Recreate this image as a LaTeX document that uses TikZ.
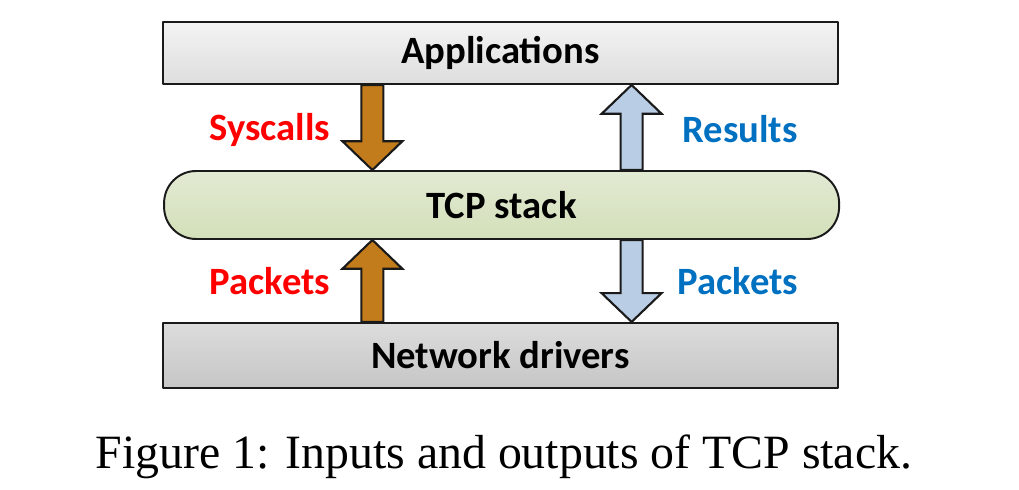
\documentclass[tikz,border=0pt]{standalone}
\usepackage{fontspec}
\setmainfont{Liberation Serif}
\newfontfamily\labelfont{Carlito}
\usetikzlibrary{arrows.meta,positioning,calc}
\definecolor{ink}{HTML}{1A1A1A}
\definecolor{appstop}{HTML}{F3F3F3}
\definecolor{appsbot}{HTML}{DEDEDE}
\definecolor{drvtop}{HTML}{DCDCDC}
\definecolor{drvbot}{HTML}{C6C6C6}
\definecolor{tcptop}{HTML}{E2EAD3}
\definecolor{tcpbot}{HTML}{D3DFB9}
\definecolor{brownarrow}{HTML}{C27C1C}
\definecolor{bluearrow}{HTML}{B9CDE5}
\definecolor{redtext}{HTML}{FF0000}
\definecolor{bluetext}{HTML}{0070C0}
\tikzset{
  every picture/.style={line cap=round, line join=round},
  layer/.style={
    draw=ink,
    line width=1.4pt,
    minimum width=16.875cm,
    inner sep=0pt,
    font=\labelfont\bfseries\fontsize{27.5}{32}\selectfont,
    text=black
  },
  applayer/.style={layer, minimum height=1.55cm, top color=appstop, bottom color=appsbot},
  drvlayer/.style={layer, minimum height=1.625cm, top color=drvtop, bottom color=drvbot},
  tcplayer/.style={layer, minimum height=1.7cm, rounded corners=0.8cm, top color=tcptop, bottom color=tcpbot},
  fatarrow/.style={draw=ink, line width=1.5pt, line join=miter},
  syscall/.style={fatarrow, fill=brownarrow},
  reply/.style={fatarrow, fill=bluearrow},
  redlbl/.style={font=\labelfont\bfseries\fontsize{27.5}{32}\selectfont, text=redtext, anchor=east},
  bluelbl/.style={font=\labelfont\bfseries\fontsize{27.5}{32}\selectfont, text=bluetext, anchor=west},
  caption/.style={font=\fontsize{34}{40}\selectfont, text=black}
}
% block arrow from #2 to #3 (vertical), head at #3
\newcommand{\blockarrow}[3]{%
  \path ($(#3)!0.72cm!(#2)$) coordinate (hb);
  \draw[#1] ($(#2)+(-0.275,0)$) -- ($(hb)+(-0.275,0)$) -- ($(hb)+(-0.75,0)$)
    -- (#3) -- ($(hb)+(0.75,0)$) -- ($(hb)+(0.275,0)$) -- ($(#2)+(0.275,0)$) -- cycle;}

\begin{document}
\begin{tikzpicture}
  \useasboundingbox (0,0) rectangle (25.475,12.225);

  \node[applayer] (apps) at (12.51,10.9) {Applications};
  \node[tcplayer] (tcp) at (12.54,7.1) {TCP stack};
  \node[drvlayer] (drv) at (12.51,3.34) {Network drivers};

  \coordinate (lx) at (9.31,0);
  \coordinate (rx) at (15.79,0);

  \coordinate (sysA) at (apps.south -| lx);
  \coordinate (sysB) at (tcp.north -| lx);
  \coordinate (resA) at (tcp.north -| rx);
  \coordinate (resB) at (apps.south -| rx);
  \coordinate (inA) at (drv.north -| lx);
  \coordinate (inB) at (tcp.south -| lx);
  \coordinate (outA) at (tcp.south -| rx);
  \coordinate (outB) at (drv.north -| rx);

  \blockarrow{syscall}{sysA}{sysB}
  \blockarrow{reply}{resA}{resB}
  \blockarrow{syscall}{inA}{inB}
  \blockarrow{reply}{outA}{outB}

  \node[redlbl] (syslbl) at ($(sysA)!0.5!(sysB)+(-0.93,-0.05)$) {Syscalls};
  \node[bluelbl] (reslbl) at ($(resA)!0.5!(resB)+(1.15,-0.05)$) {Results};
  \node[redlbl] (inlbl) at ($(inA)!0.5!(inB)+(-0.93,0)$) {Packets};
  \node[bluelbl] (outlbl) at ($(outA)!0.5!(outB)+(1.03,0)$) {Packets};

  \node[caption] (cap) at (12.6,0.8) {Figure 1: Inputs and outputs of TCP stack.};
\end{tikzpicture}
\end{document}
